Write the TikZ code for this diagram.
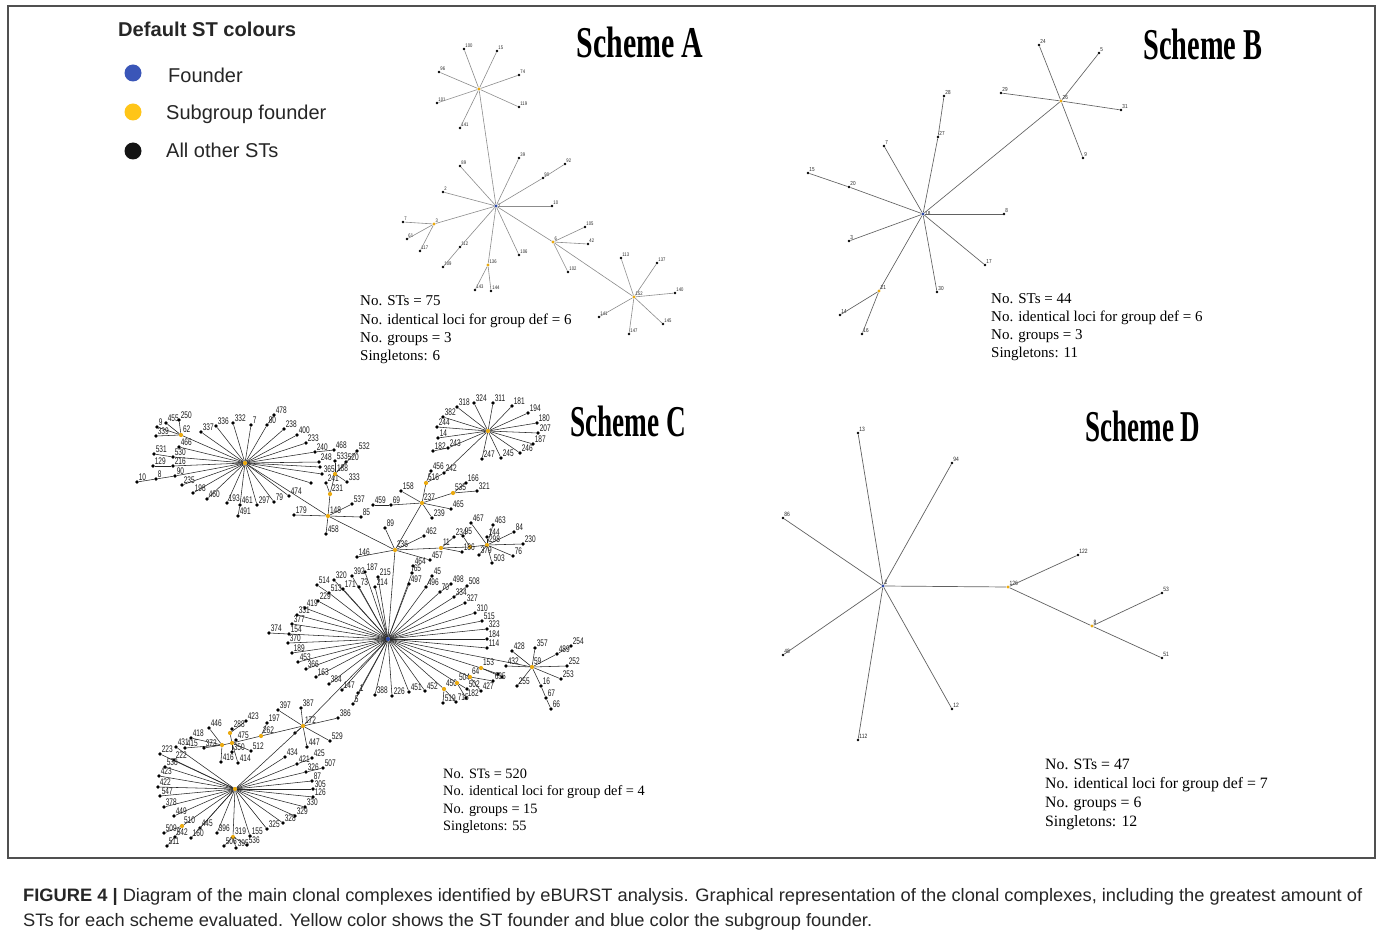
\documentclass[tikz,border=0pt]{standalone}
\usepackage{fontspec}
\setmainfont{Liberation Serif}
\setsansfont{Liberation Sans}
\definecolor{fBlue}{HTML}{2C49A8}
\definecolor{subY}{HTML}{EBAA10}
\definecolor{legY}{HTML}{FFC518}
\definecolor{legB}{HTML}{3A56B8}
\definecolor{legK}{HTML}{141414}
\definecolor{frameC}{HTML}{505050}
\newcommand\lbl[1]{\scalebox{0.8}[1]{#1}}
\newcommand\STn[5][st]{\node[#1,label={[lab]above right:\lbl{#4}}] (#2) at (#3) {};\draw[edge] (#5) -- (#2);}
\tikzset{
 st/.style={circle,fill=black,inner sep=0pt,minimum size=2.6pt},
 yst/.style={st,fill=subY,minimum size=3.2pt},
 bst/.style={st,fill=fBlue,minimum size=3.2pt},
 edge/.style={draw=black!65,line width=0.5pt},
 lab/.style={font=\sffamily\fontsize{5.2}{5.2}\selectfont,inner sep=0.2pt,text=black!85},
 title/.style={font=\bfseries\fontsize{44}{44}\selectfont,inner sep=0pt},
 stats/.style={font=\fontsize{15}{15}\selectfont,anchor=base west,inner sep=0pt},
 legdot/.style={circle,inner sep=0pt,minimum size=17pt},
 legtxt/.style={font=\sffamily\fontsize{20}{20}\selectfont,anchor=base west,inner sep=0pt,text=black!85},
 captxt/.style={font=\sffamily\fontsize{18}{18}\selectfont,anchor=base west,inner sep=0pt,text=black!85},
}
\begin{document}
\begin{tikzpicture}[x=1pt,y=-1pt]
\fill[white] (0,0) rectangle (1379,941);
\useasboundingbox (0,0) rectangle (1379,941);
\draw[frameC,line width=1.2pt] (8,6) rectangle (1375,858);

% ---------- legend ----------
\node[legtxt,font=\sffamily\bfseries\fontsize{20}{20}\selectfont] (lgT) at (118,37) {\resizebox{178pt}{\height}{Default ST colours}};
\node[legdot,fill=legB] (lgB) at (133,73) {};
\node[legdot,fill=legY] (lgY) at (133,112) {};
\node[legdot,fill=legK] (lgK) at (133,151) {};
\node[legtxt] (lgBt) at (168,83) {Founder};
\node[legtxt] (lgYt) at (166,120) {Subgroup founder};
\node[legtxt] (lgKt) at (166,158) {All other STs};

% ---------- titles ----------
\node[title] (tA) at (640,42) {\resizebox{127pt}{\height}{Scheme A}};
\node[title] (tB) at (1203,44) {\resizebox{119pt}{\height}{Scheme B}};
\node[title] (tC) at (628,421) {\resizebox{116pt}{\height}{Scheme C}};
\node[title] (tD) at (1143,426) {\resizebox{115pt}{\height}{Scheme D}};

% ---------- stats ----------
\node[stats] (sA1) at (360,306) {No. STs = 75};
\node[stats] (sA2) at (360,324) {No. identical loci for group def = 6};
\node[stats] (sA3) at (360,342) {No. groups = 3};
\node[stats] (sA4) at (360,360) {Singletons: 6};
\node[stats] (sB1) at (991,304) {No. STs = 44};
\node[stats] (sB2) at (991,322) {No. identical loci for group def = 6};
\node[stats] (sB3) at (991,340) {No. groups = 3};
\node[stats] (sB4) at (991,358) {Singletons: 11};
\begin{scope}[stats/.append style={font=\fontsize{14.3}{14.3}\selectfont}]
\node[stats] (sC1) at (443,778) {No. STs = 520};
\node[stats] (sC2) at (443,795.5) {No. identical loci for group def = 4};
\node[stats] (sC3) at (443,813) {No. groups = 15};
\node[stats] (sC4) at (443,830.5) {Singletons: 55};
\end{scope}
\begin{scope}[stats/.append style={font=\fontsize{15.8}{15.8}\selectfont}]
\node[stats] (sD1) at (1045,769.5) {No. STs = 47};
\node[stats] (sD2) at (1045,788.5) {No. identical loci for group def = 7};
\node[stats] (sD3) at (1045,807.5) {No. groups = 6};
\node[stats] (sD4) at (1045,826.5) {Singletons: 12};
\end{scope}

% ---------- Scheme A ----------
\begin{scope}[edge/.style={draw=black!45,line width=0.6pt}]
\node[bst,label={[lab]right:\lbl{1}}] (aF) at (496,206) {};
\STn[yst]{aH1}{479,89}{}{aF}
\STn{a100}{464,49}{100}{aH1}
\STn{a15}{497,51}{15}{aH1}
\STn{a96}{439,72}{96}{aH1}
\STn{a74}{519,75}{74}{aH1}
\STn{a101}{437,103}{101}{aH1}
\STn{a119}{519,107}{119}{aH1}
\STn{a141}{460,128}{141}{aH1}
\STn{a89}{460,166}{89}{aF}
\STn{a39}{519,158}{39}{aF}
\STn{a90}{543,178}{90}{aF}
\STn{a92}{565,164}{92}{a90}
\STn{a2}{443,192}{2}{aF}
\STn{a10}{552,206}{10}{aF}
\STn[yst]{a3}{434,224}{3}{aF}
\STn{a7}{403,222}{7}{a3}
\STn{a61}{407,239}{61}{a3}
\STn{a117}{420,251}{117}{a3}
\STn{a112}{460,247}{112}{aF}
\STn{a109}{443,267}{109}{a112}
\STn[yst]{a136}{488,265}{136}{aF}
\STn{a143}{475,290}{143}{a136}
\STn{a144}{491,291}{144}{a136}
\STn{a106}{519,255}{106}{aF}
\STn[yst]{a6}{553,242}{6}{aF}
\STn{a105}{585,227}{105}{a6}
\STn{a42}{588,244}{42}{a6}
\STn{a102}{568,272}{102}{a6}
\STn[yst]{a152}{634,297}{152}{a6}
\STn{a113}{621,258}{113}{a152}
\STn{a137}{657,263}{137}{a152}
\STn{a140}{675,293}{140}{a152}
\STn{a141b}{599,317}{141}{a152}
\STn{a145}{663,324}{145}{a152}
\STn{a147}{629,334}{147}{a152}
\end{scope}

% ---------- Scheme B ----------
\begin{scope}[edge/.style={draw=black!62,line width=0.65pt},lab/.append style={font=\sffamily\fontsize{5.8}{5.8}\selectfont}]
\node[bst,label={[lab]right:\lbl{18}}] (bF) at (923,214) {};
\STn[yst]{bH}{1061,101}{26}{bF}
\STn{b24}{1039,45}{24}{bH}
\STn{b5}{1099,53}{5}{bH}
\STn{b29}{1001,93}{29}{bH}
\STn{b31}{1121,110}{31}{bH}
\STn{b9}{1083,158}{9}{bH}
\STn{b27}{938,137}{27}{bF}
\STn{b28}{944,96}{28}{b27}
\STn{b7}{884,146}{7}{bF}
\STn{b20}{849,187}{20}{bF}
\STn{b15}{808,173}{15}{b20}
\STn{b8}{1004,214}{8}{bF}
\STn{b3}{849,241}{3}{bF}
\STn{b17}{985,265}{17}{bF}
\STn{b30}{937,292}{30}{bF}
\STn[yst]{b21}{879,291}{21}{bF}
\STn{b14}{840,315}{14}{b21}
\STn{b16}{862,334}{16}{b21}
\end{scope}

% ---------- Scheme D ----------
\begin{scope}[edge/.style={draw=black!62,line width=0.7pt},lab/.append style={font=\sffamily\fontsize{6.2}{6.2}\selectfont}]
\node[bst,label={[lab]above right:\lbl{2}}] (dF) at (883,586) {};
\STn{d13}{858,433}{13}{dF}
\STn{d94}{952,463}{94}{dF}
\STn{d86}{783,518}{86}{dF}
\STn{d48}{783,655}{48}{dF}
\STn{d112}{858,740}{112}{dF}
\STn{d12}{952,709}{12}{dF}
\STn[yst]{d126}{1008,587}{126}{dF}
\STn{d122}{1078,555}{122}{d126}
\STn[yst]{d8}{1092,626}{8}{d126}
\STn{d53}{1162,593}{53}{d8}
\STn{d51}{1162,658}{51}{d8}
\end{scope}

% ---------- Scheme C ----------
\begin{scope}[edge/.style={draw=black!85,line width=0.55pt},
  lab/.append style={font=\sffamily\fontsize{9.6}{9.6}\selectfont,text=black!90},
  st/.append style={minimum size=3.6pt},yst/.append style={minimum size=4.2pt},bst/.append style={minimum size=4.2pt}]
\renewcommand\lbl[1]{\scalebox{0.68}[1]{#1}}
% hub 1
\node[yst] (cH1) at (245,463) {};
\STn[yst]{c62}{181,435}{62}{cH1}
\STn{c9}{157,427}{9}{c62}
\STn{c455}{166,423}{455}{c62}
\STn{c250}{179,420}{250}{c62}
\STn{c339}{156,436}{339}{c62}
\STn{c337}{201,432}{337}{cH1}
\STn{c336}{216,426}{336}{cH1}
\STn{c332}{233,423}{332}{cH1}
\STn{c7}{251,425}{7}{cH1}
\STn{c80}{267,425}{80}{cH1}
\STn{c478}{274,415}{478}{c80}
\STn{c238}{284,429}{238}{cH1}
\STn{c400}{297,435}{400}{cH1}
\STn{c233}{306,443}{233}{cH1}
\STn{c240}{315,452}{240}{cH1}
\STn{c468}{334,450}{468}{c240}
\STn{c466}{179,447}{466}{cH1}
\STn{c530}{173,457}{530}{cH1}
\STn{c531}{154,454}{531}{c530}
\STn{c216}{173,466}{216}{cH1}
\STn{c129}{153,466}{129}{c216}
\STn{c90}{175,476}{90}{cH1}
\STn{c8}{156,479}{8}{c90}
\STn{c10}{137,482}{10}{c8}
\STn{c235}{182,485}{235}{cH1}
\STn{c198}{193,493}{198}{cH1}
\STn{c460}{207,499}{460}{cH1}
\STn{c193}{227,503}{193}{cH1}
\STn{c461}{240,505}{461}{cH1}
\STn{c491}{238,516}{491}{c461}
\STn{c297}{257,505}{297}{cH1}
\STn{c79}{274,502}{79}{cH1}
\STn{c474}{289,496}{474}{cH1}
\STn{c248}{319,462}{248}{cH1}
\STn{c365}{322,474}{365}{cH1}
\STn{c22}{311,483}{}{cH1}
\STn{c23}{320,467}{}{cH1}
\STn[yst]{c148}{328,516}{148}{cH1}
\STn[yst]{c231}{330,494}{231}{c148}
\STn{c241}{326,483}{241}{c231}
\STn[yst]{c188}{335,474}{188}{c231}
\STn{c533}{335,461}{533}{c188}
\STn{c520}{346,462}{520}{c188}
\STn{c532}{357,451}{532}{c188}
\STn{c333}{347,482}{333}{c188}
\STn{c179}{294,515}{179}{c148}
\STn{c537}{352,504}{537}{c148}
\STn{c85}{361,517}{85}{c148}
\STn{c458}{326,534}{458}{c148}
% 236 / 237
\STn[yst]{c236}{395,550}{236}{c148}
\STn[yst]{c237}{422,503}{237}{c236}
\STn{c158}{401,491}{158}{c237}
\STn{c69}{391,505}{69}{c237}
\STn{c459}{373,505}{459}{c69}
\STn{c465}{451,509}{465}{c237}
\STn{c239}{432,518}{239}{c237}
\STn[yst]{c535}{453,493}{535}{c237}
\STn{c166}{466,483}{166}{c535}
\STn{c321}{477,491}{321}{c535}
\STn[yst]{c516}{426,483}{516}{c237}
\STn{c456}{431,471}{456}{c516}
\STn{c242}{444,473}{242}{c516}
% hub 2
\STn[yst]{cH2}{488,431}{}{c242}
\STn{c318}{457,407}{318}{cH2}
\STn{c382}{443,417}{382}{cH2}
\STn{c244}{437,427}{244}{cH2}
\STn{c14}{438,438}{14}{cH2}
\STn{c243}{448,448}{243}{cH2}
\STn{c182}{433,451}{182}{c243}
\STn{c324}{474,403}{324}{cH2}
\STn{c311}{493,403}{311}{cH2}
\STn{c181}{512,406}{181}{cH2}
\STn{c194}{528,413}{194}{cH2}
\STn{c180}{537,423}{180}{cH2}
\STn{c207}{538,433}{207}{cH2}
\STn{c187}{533,444}{187}{cH2}
\STn{c246}{520,453}{246}{cH2}
\STn{c245}{501,458}{245}{cH2}
\STn{c247}{482,459}{247}{cH2}
% 236 leaves and hub 3
\STn{c89}{385,528}{89}{c236}
\STn{c462}{424,536}{462}{c236}
\STn{c457}{430,560}{457}{c236}
\STn{c146}{357,557}{146}{c236}
\STn[yst]{c11}{441,548}{11}{c236}
\STn[yst]{cY4}{470,547}{}{c11}
\STn[yst]{cH3}{487,545}{298}{cY4}
\STn{c467}{471,523}{467}{cH3}
\STn{c463}{493,525}{463}{cH3}
\STn{c84}{514,532}{84}{cH3}
\STn{c230}{523,544}{230}{cH3}
\STn{c76}{513,556}{76}{cH3}
\STn{c503}{492,563}{503}{cH3}
\STn{c379}{479,555}{379}{cH3}
\STn{c144}{487,537}{144}{cH3}
\STn{c186}{462,552}{186}{c11}
\STn{c234}{454,537}{234}{c11}
\STn{c95}{463,536}{95}{cY4}
% founder
\node[bst] (cF) at (388,639) {};
\draw[edge] (cF) -- (c236);
\STn{c187b}{365,572}{187}{cF}
\STn{c215}{378,577}{215}{cF}
\STn{c214}{375,587}{214}{cF}
\STn{c392}{352,576}{392}{cF}
\STn{c320}{334,580}{320}{cF}
\STn{c73}{359,587}{73}{cF}
\STn{c171}{343,589}{171}{cF}
\STn{c513}{329,593}{513}{cF}
\STn{c514}{317,585}{514}{c513}
\STn{c229}{318,601}{229}{cF}
\STn{c419}{305,608}{419}{cF}
\STn{c331}{297,615}{331}{cF}
\STn{c377}{292,624}{377}{cF}
\STn{c154}{289,634}{154}{cF}
\STn{c374}{269,633}{374}{c154}
\STn{c370}{288,643}{370}{cF}
\STn{c189}{292,653}{189}{cF}
\STn{c453}{298,662}{453}{cF}
\STn{c366}{306,669}{366}{cF}
\STn{c163}{316,677}{163}{cF}
\STn{c384}{329,684}{384}{cF}
\STn{c147}{342,690}{147}{cF}
\STn{c1}{358,693}{1}{cF}
\STn{c5}{353,704}{5}{cF}
\STn{c388}{375,695}{388}{cF}
\STn{c226}{392,696}{226}{cF}
\STn{c451}{409,692}{451}{cF}
\STn{c452}{425,691}{452}{cF}
\STn[yst]{c450}{444,689}{450}{cF}
\STn{c519}{443,703}{519}{c450}
\STn{c715}{456,702}{715}{c450}
\STn[yst]{c504}{457,683}{504}{cF}
\STn{c182b}{466,698}{182}{c504}
\STn{c502}{467,689}{502}{c504}
\STn[yst]{c64}{470,677}{64}{cF}
\STn{c427}{481,691}{427}{c64}
\STn{c635}{493,681}{635}{c64}
\STn[yst]{c153}{481,668}{153}{cF}
\STn{c153a}{498,674}{}{c153}
\STn{c153b}{502,677}{}{c153}
\STn{c65}{412,573}{65}{cF}
\STn{c464}{413,566}{464}{c65}
\STn{c497}{409,584}{497}{cF}
\STn{c496}{426,587}{496}{cF}
\STn{c45}{432,576}{45}{c496}
\STn{c70}{440,592}{70}{cF}
\STn{c498}{451,584}{498}{c70}
\STn{c334}{454,597}{334}{cF}
\STn{c508}{467,586}{508}{c334}
\STn{c327}{465,603}{327}{cF}
\STn{c310}{475,613}{310}{cF}
\STn{c515}{482,621}{515}{cF}
\STn{c323}{487,629}{323}{cF}
\STn{c184}{487,639}{184}{cF}
\STn{c114}{487,648}{114}{cF}
% hub 5
\STn[yst]{cH5}{532,667}{59}{cF}
\STn{c432}{506,666}{432}{cH5}
\STn{c428}{512,651}{428}{cH5}
\STn{c357}{535,648}{357}{cH5}
\STn{c489}{557,654}{489}{cH5}
\STn{c254}{571,646}{254}{c489}
\STn{c252}{567,666}{252}{cH5}
\STn{c253}{561,679}{253}{cH5}
\STn{c16}{541,686}{16}{cH5}
\STn{c67}{546,698}{67}{c16}
\STn{c66}{551,709}{66}{c67}
\STn{c255}{517,686}{255}{cH5}
% hub 6 (172)
\STn[yst]{cH6}{303,726}{172}{cF}
\STn{c397}{278,710}{397}{cH6}
\STn{c387}{301,708}{387}{cH6}
\STn{c386}{338,718}{386}{cH6}
\STn{c529}{330,741}{529}{cH6}
\STn{c447}{307,747}{447}{cH6}
\STn{c430}{295,733}{}{cH6}
\STn[yst]{c262}{261,736}{262}{cH6}
\STn{c197}{267,723}{197}{c262}
\STn[yst]{cY6}{232,743}{}{c262}
\STn[yst]{cY5}{230,733}{}{cY6}
\STn[yst]{cY7}{222,745}{}{cY6}
\STn{c446}{209,728}{446}{cY7}
\STn{c418}{191,738}{418}{cY7}
\STn{c415}{185,748}{415}{cY7}
\STn{c373}{204,748}{373}{cY7}
\STn{c416}{221,762}{416}{cY7}
\STn{c288}{232,729}{288}{cY5}
\STn{c423b}{246,721}{423}{cY5}
\STn{c475}{236,740}{475}{cY6}
\STn{c512}{251,751}{512}{cY6}
\STn{c350}{232,752}{350}{cY6}
\STn{c414}{238,763}{414}{cY6}
% hub 7
\STn[yst]{cH7}{235,789}{}{cH6}
\STn{c223}{160,754}{223}{cH7}
\STn{c431}{176,747}{431}{cH7}
\STn{c222}{174,760}{222}{cH7}
\STn{c538}{165,767}{538}{cH7}
\STn{c423}{159,776}{423}{cH7}
\STn{c422}{158,787}{422}{cH7}
\STn{c547}{160,796}{547}{cH7}
\STn{c378}{164,807}{378}{cH7}
\STn{c449}{174,816}{449}{cH7}
\STn[yst]{c510}{182,826}{510}{cH7}
\STn{c509}{164,833}{509}{c510}
\STn{c542}{175,837}{542}{c510}
\STn{c511}{167,846}{511}{c542}
\STn{c445}{200,828}{445}{cH7}
\STn{c160}{191,838}{160}{cH7}
\STn{c396}{217,833}{396}{cH7}
\STn[yst]{c319}{233,837}{319}{cH7}
\STn{c506}{224,846}{506}{c319}
\STn{c395}{236,848}{395}{c319}
\STn{c536}{247,845}{536}{c319}
\STn{c155}{250,836}{155}{cH7}
\STn{c325}{267,829}{325}{cH7}
\STn{c328}{283,823}{328}{cH7}
\STn{c329}{295,816}{329}{cH7}
\STn{c330}{305,807}{330}{cH7}
\STn{c126}{313,797}{126}{cH7}
\STn{c305}{313,789}{305}{cH7}
\STn{c87}{312,781}{87}{cH7}
\STn{c326}{306,772}{326}{cH7}
\STn{c507}{323,768}{507}{c326}
\STn{c421}{297,764}{421}{cH7}
\STn{c425}{312,758}{425}{c421}
\STn{c434}{285,757}{434}{cH7}
\end{scope}

% ---------- caption ----------
\node[captxt] (cap1) at (23,901) {\resizebox{1339pt}{\height}{\textbf{FIGURE 4 |} Diagram of the main clonal complexes identified by eBURST analysis. Graphical representation of the clonal complexes, including the greatest amount of}};
\node[captxt] (cap2) at (23,926) {\resizebox{849pt}{\height}{STs for each scheme evaluated. Yellow color shows the ST founder and blue color the subgroup founder.}};
\end{tikzpicture}
\end{document}
